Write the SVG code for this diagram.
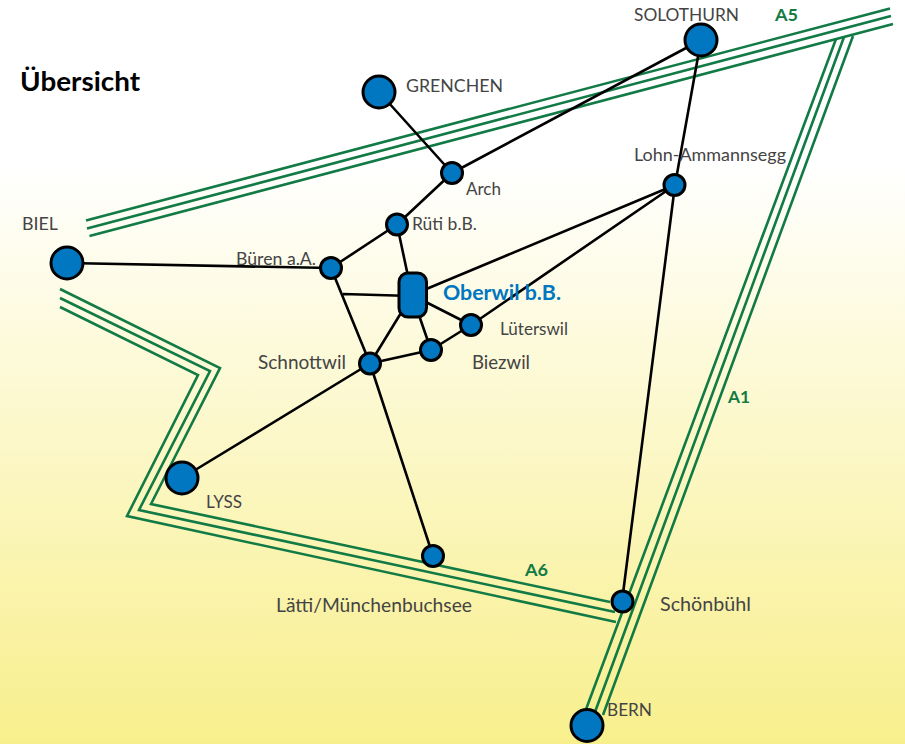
<svg xmlns="http://www.w3.org/2000/svg" width="905" height="744" viewBox="0 0 905 744">
<style>
.road{fill:none;stroke:#117a45;stroke-width:2.6}
.edge{fill:none;stroke:#000;stroke-width:2.6}
.big,.small,.hub{fill:#0077c0;stroke:#000;stroke-width:3}
text{font-family:Lato,"Liberation Sans",sans-serif;fill:#444;font-size:17px;font-weight:400}
.m{font-size:19px}
.rl{fill:#117a45;font-weight:700;font-size:17px}
</style>
<defs><linearGradient id="bg" x1="0" y1="0" x2="0" y2="1"><stop offset="0.22" stop-color="#fff"/><stop offset="1" stop-color="#f8ef8c"/></linearGradient></defs>
<rect width="905" height="744" fill="url(#bg)"/>
<g id="roads">
<path class="road" d="M86 220.500L890 8.500M87 228.500L891 16M89.500 236L893 24"/>
<path class="road" d="M836 39L585 712M844 37L595 712M853 36L603 715"/>
<path class="road" d="M60 289L220 368L151 504L610 602M60 298L210 371L139 510L615 612M60 307L198 375L127 516L616 622"/>
</g>
<g id="connectors">
<path class="edge" d="M701 40L452 173M379 92L452 173M452 173L397 224.500M397 224.500L331 268M67 263L331 268M397 224.500L412 295M343 294L412 296M331 268L370 363.500M412 295L370 363.500M412 295L431 350M412 295L471 325M412 295L675 185M471 325L675 185M471 325L431 350M431 350L370 363.500M370 363.500L182 478M370 363.500L433 556M675 185L701 40M675 185L622 601.500"/>
</g>
<g id="solothurn"><circle class="big" cx="701" cy="40" r="16"/><text x="634" y="21" textLength="105" lengthAdjust="spacingAndGlyphs">SOLOTHURN</text></g>
<g id="grenchen"><circle class="big" cx="379" cy="92" r="16"/><text x="406" y="91.500" textLength="97" lengthAdjust="spacingAndGlyphs">GRENCHEN</text></g>
<g id="biel"><circle class="big" cx="67" cy="263" r="16"/><text x="22" y="229.500" textLength="36" lengthAdjust="spacingAndGlyphs">BIEL</text></g>
<g id="lyss"><circle class="big" cx="182" cy="478" r="16"/><text x="206" y="507.500" textLength="36" lengthAdjust="spacingAndGlyphs">LYSS</text></g>
<g id="bern"><circle class="big" cx="587" cy="725.500" r="16"/><text x="607" y="715.500" textLength="45" lengthAdjust="spacingAndGlyphs">BERN</text></g>
<g id="lohn"><circle class="small" cx="674.500" cy="185" r="10.500"/><text x="634" y="161" textLength="152" lengthAdjust="spacingAndGlyphs">Lohn-Ammannsegg</text></g>
<g id="arch"><circle class="small" cx="452" cy="173" r="10.500"/><text x="466" y="195" textLength="35" lengthAdjust="spacingAndGlyphs">Arch</text></g>
<g id="rueti"><circle class="small" cx="397" cy="224.500" r="10.500"/><text x="412" y="230" textLength="65" lengthAdjust="spacingAndGlyphs">Rüti b.B.</text></g>
<g id="bueren"><circle class="small" cx="331" cy="268" r="10.500"/><text x="236" y="264.500" textLength="80" lengthAdjust="spacingAndGlyphs">Büren a.A.</text></g>
<g id="oberwil"><rect class="hub" x="399" y="273" width="27.500" height="44" rx="9"/><text x="443" y="299.500" textLength="118" lengthAdjust="spacingAndGlyphs" style="fill:#0077c0;font-weight:700;font-size:20px">Oberwil b.B.</text></g>
<g id="luterswil"><circle class="small" cx="471" cy="325" r="10.500"/><text x="500" y="334.500" textLength="68" lengthAdjust="spacingAndGlyphs">Lüterswil</text></g>
<g id="biezwil"><circle class="small" cx="431" cy="350" r="10.500"/><text class="m" x="472" y="369" textLength="58" lengthAdjust="spacingAndGlyphs">Biezwil</text></g>
<g id="schnottwil"><circle class="small" cx="370" cy="363.500" r="10.500"/><text class="m" x="258" y="369" textLength="88" lengthAdjust="spacingAndGlyphs">Schnottwil</text></g>
<g id="laetti"><circle class="small" cx="433" cy="556" r="10.500"/><text class="m" x="276" y="612" textLength="196" lengthAdjust="spacingAndGlyphs">Lätti/Münchenbuchsee</text></g>
<g id="schoenbuehl"><circle class="small" cx="622.500" cy="601.500" r="10.500"/><text class="m" x="660" y="611" textLength="91" lengthAdjust="spacingAndGlyphs">Schönbühl</text></g>
<text class="rl" x="775" y="20.500" textLength="23" lengthAdjust="spacingAndGlyphs">A5</text>
<text class="rl" x="728" y="403" textLength="22" lengthAdjust="spacingAndGlyphs">A1</text>
<text class="rl" x="525" y="575.500" textLength="23" lengthAdjust="spacingAndGlyphs">A6</text>
<text x="20" y="91" textLength="120" lengthAdjust="spacingAndGlyphs" style="fill:#000;font-weight:700;font-size:27px">Übersicht</text>
</svg>
